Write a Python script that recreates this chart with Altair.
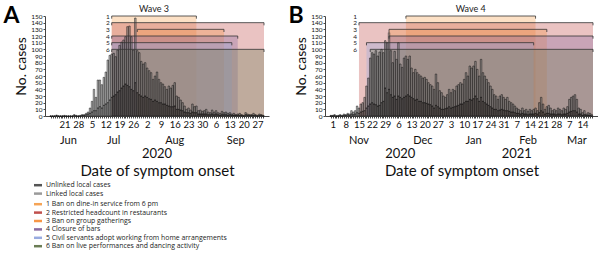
import altair as alt
import pandas as pd

# ---------------- data ----------------
A_FIRST_DAY = "2020-06-14"
A_TOTAL = [0, 0, 0, 1, 0, 0, 0, 1, 0, 0, 0, 0, 2, 1, 0, 1, 2,
           2, 4, 6, 12, 22, 40, 28, 54, 54, 47, 58, 66, 84, 91, 93, 94, 89, 99, 106, 111, 114, 119, 134, 135, 119, 99, 147, 98, 95, 82, 78,
           80, 72, 68, 65, 55, 60, 66, 55, 50, 48, 44, 40, 45, 42, 46, 50, 30, 28, 24, 20, 15, 10, 12, 9, 18, 14, 15, 8, 9, 7, 8,
           10, 6, 5, 9, 6, 8, 5, 4, 7, 5, 6, 4, 5, 3, 4, 2, 3, 4, 2, 1, 5, 3, 2, 2, 4, 2, 1, 3, 2, 1]
A_UNLINKED = [0, 0, 0, 1, 0, 0, 0, 0, 0, 0, 0, 0, 1, 0, 0, 0, 1,
              1, 2, 3, 4, 6, 8, 8, 12, 14, 12, 16, 18, 20, 24, 28, 30, 32, 36, 38, 42, 45, 48, 46, 44, 40, 38, 50, 35, 32, 30, 28,
              30, 28, 26, 25, 22, 24, 22, 20, 20, 18, 18, 16, 15, 14, 14, 15, 10, 10, 9, 8, 6, 5, 5, 4, 6, 5, 5, 3, 3, 3, 3,
              3, 2, 2, 3, 2, 3, 2, 1, 2, 2, 2, 1, 2, 1, 1, 1, 1, 1, 1, 0, 2, 1, 1, 1, 1, 1, 0, 1, 1, 0]

B_FIRST_DAY = "2020-10-31"
B_TOTAL = [1,
           1, 2, 0, 1, 2, 1, 3, 2, 4, 3, 8, 6, 8, 15, 12, 18, 20, 28, 45, 57, 87, 95, 93, 98, 90, 96, 100, 95, 113, 110,
           125, 98, 80, 97, 85, 110, 78, 73, 87, 90, 85, 90, 72, 65, 70, 65, 62, 60, 57, 58, 55, 50, 47, 45, 40, 63, 50, 38, 35, 30, 28,
           32, 40, 35, 40, 38, 45, 47, 50, 48, 55, 65, 60, 75, 72, 75, 82, 70, 60, 85, 65, 60, 55, 50, 45, 40, 32, 30, 25, 30, 32, 28,
           25, 28, 22, 20, 18, 15, 12, 10, 8, 12, 8, 10, 7, 10, 8, 10, 12, 8, 20, 28, 18, 10, 14, 16, 12, 8, 10, 8,
           12, 10, 8, 12, 10, 14, 25, 28, 30, 32, 25, 12, 10, 5, 8, 3, 5, 4, 2]
B_UNLINKED = [0,
              0, 1, 0, 0, 1, 0, 1, 1, 2, 1, 3, 2, 3, 5, 4, 6, 7, 8, 12, 15, 18, 20, 18, 17, 15, 16, 20, 22, 42, 35,
              40, 32, 28, 30, 25, 30, 28, 26, 28, 30, 32, 30, 28, 26, 24, 25, 22, 22, 20, 20, 19, 18, 17, 15, 12, 16, 14, 12, 10, 10, 11,
              12, 14, 12, 13, 14, 15, 16, 18, 18, 20, 22, 22, 25, 24, 26, 30, 26, 22, 28, 22, 20, 18, 16, 14, 12, 10, 10, 8, 9, 10, 9,
              8, 8, 7, 6, 6, 5, 4, 4, 3, 4, 3, 3, 2, 3, 3, 3, 4, 3, 5, 8, 6, 3, 4, 4, 3, 3, 3, 2,
              3, 3, 2, 3, 3, 4, 6, 7, 8, 8, 6, 3, 3, 1, 2, 1, 1, 1, 0]

CASE_TYPES = ["Unlinked local cases", "Linked local cases"]
MEASURES = ["1 Ban on dine-in service from 6 pm",
            "2 Restricted headcount in restaurants",
            "3 Ban on group gatherings",
            "4 Closure of bars",
            "5 Civil servants adopt working from home arrangements",
            "6 Ban on live performances and dancing activity"]
MEASURE_NUMS = ["1", "2", "3", "4", "5", "6"]
LEVELS = [150, 140, 130, 120, 110, 100]

A_DOMAIN = ["2020-06-13T16:00:00Z", "2020-09-30T08:00:00Z"]
B_DOMAIN = ["2020-10-30T14:00:00Z", "2021-03-19T14:00:00Z"]

A_MEAS_START = ["2020-07-15", "2020-07-15", "2020-07-28", "2020-07-15", "2020-07-15", "2020-07-15"]
A_MEAS_END = ["2020-08-27", "2020-09-30T08:00:00Z", "2020-09-10", "2020-09-17", "2020-09-14", "2020-09-30T08:00:00Z"]
B_MEAS_START = ["2020-12-10", "2020-11-15", "2020-12-01", "2020-12-01", "2020-11-19", "2020-11-21"]
B_MEAS_END = ["2021-02-17", "2021-03-19T14:00:00Z", "2021-02-23", "2021-03-19T14:00:00Z", "2021-02-16", "2021-03-19T14:00:00Z"]

A_FIRST_LABEL = "2020-06-21"
B_FIRST_LABEL = "2020-11-01"
A_MONTHS = ["Jun", "Jul", "Aug", "Sep"]
A_MONTH_POS = ["2020-06-23", "2020-07-16", "2020-08-16", "2020-09-16"]
A_YEARS = ["2020"]
A_YEAR_POS = ["2020-08-07"]
B_MONTHS = ["Nov", "Dec", "Jan", "Feb", "Mar"]
B_MONTH_POS = ["2020-11-15", "2020-12-19", "2021-01-15", "2021-02-13", "2021-03-11"]
B_YEARS = ["2020", "2021"]
B_YEAR_POS = ["2020-12-07", "2021-02-07"]

# ---------------- styles ----------------
CASE_COLORS = ["#2e2e2e", "#8a8a8a"]
LEGEND_CASE_COLORS = ["#555555", "#9a9a9a"]
MEASURE_COLORS = ["#f5a456", "#c0504d", "#f79646", "#8a6aa0", "#98abe0", "#6b7d55"]
FONT = "Lato"
DAY = 86400000


def ms(s):
    t = pd.Timestamp(s)
    if t.tzinfo is None:
        t = t.tz_localize("UTC")
    return int(t.value // 10**6)


def panel(letter, first_day, total, unlinked, mstart, mend, domain, first_label,
          months, month_pos, years, year_pos, wave, width, letter_x):
    d0 = ms(first_day)
    n = len(total)
    dates = [d0 + i * DAY for i in range(n)]
    rows = []
    for i in range(n):
        rows.append({"date": dates[i], "type": CASE_TYPES[0], "count": unlinked[i], "ord": 0})
        rows.append({"date": dates[i], "type": CASE_TYPES[1], "count": total[i] - unlinked[i], "ord": 1})
    bars_df = pd.DataFrame(rows)

    meas_df = pd.DataFrame({
        "measure": MEASURES, "num": MEASURE_NUMS, "level": LEVELS,
        "start": [ms(s) for s in mstart], "end": [ms(e) for e in mend],
    })
    meas_df["label_x"] = meas_df["start"].min()
    wave_df = pd.DataFrame({"mid": [(meas_df["start"][0] + meas_df["end"][0]) // 2],
                            "level": [LEVELS[0]], "label": [wave]})
    month_df = pd.DataFrame({"pos": [ms(p) for p in month_pos], "label": months})
    year_df = pd.DataFrame({"pos": [ms(p) for p in year_pos], "label": years})
    letter_df = pd.DataFrame({"t": [letter]})

    fl = ms(first_label)
    label_expr = (f"time(datum.value) >= {fl} && round((time(datum.value) - {fl}) / {DAY}) % 7 == 0"
                  f" ? utcFormat(datum.value, '%-d') : ''")
    xscale = alt.Scale(type="utc", domain=[ms(d) for d in domain], nice=False)
    xaxis = alt.Axis(values=dates, labelExpr=label_expr, labelFontSize=9.5, labelPadding=1,
                     tickSize=2, tickColor="#444", domainColor="#444", labelColor="#111",
                     labelOverlap=False, labelFlush=False, grid=False,
                     title="Date of symptom onset", titleFontSize=15, titleFontWeight="normal",
                     titleColor="#111", titlePadding=35)
    yscale = alt.Scale(domain=[0, 150], nice=False)
    yaxis = alt.Axis(values=list(range(0, 151, 10)), labelFontSize=6.5, labelPadding=1, tickSize=2,
                     tickColor="#444", domainColor="#444", labelColor="#111", grid=False,
                     title="No. cases", titleFontSize=14, titleFontWeight="normal",
                     titleColor="#111", titlePadding=2)

    def X(f):
        return alt.X(f"{f}:T", scale=xscale, axis=xaxis)

    def Y(f, **kw):
        return alt.Y(f"{f}:Q", scale=yscale, axis=yaxis, **kw)

    rects = alt.Chart(meas_df).mark_rect(opacity=0.34).encode(
        x=X("start"), x2=alt.X2("end:T"), y=Y("level"), y2=alt.datum(0),
        fill=alt.Fill("measure:N", scale=alt.Scale(domain=MEASURES, range=MEASURE_COLORS), legend=None))
    bars = alt.Chart(bars_df).mark_bar(size=1.5, stroke="#000000", strokeWidth=0.6, strokeOpacity=0.75,
                                       fillOpacity=0.55).encode(
        x=X("date"), y=Y("count", stack="zero"),
        color=alt.Color("type:N", scale=alt.Scale(domain=CASE_TYPES, range=CASE_COLORS), legend=None),
        order=alt.Order("ord:Q"))
    hlines = alt.Chart(meas_df).mark_rule(color="#333", strokeWidth=0.8).encode(
        x=X("start"), x2=alt.X2("end:T"), y=Y("level"))
    tick_base = alt.Chart(meas_df).transform_calculate(tb="datum.level - 4").mark_rule(
        color="#333", strokeWidth=0.8)
    ticks1 = tick_base.encode(x=X("start"), y=Y("level"), y2=alt.Y2("tb:Q"))
    ticks2 = tick_base.encode(x=X("end"), y=Y("level"), y2=alt.Y2("tb:Q"))
    nums = alt.Chart(meas_df).mark_text(align="right", baseline="middle", dx=-2, dy=0.5,
                                        fontSize=6.5, fill="#222").encode(
        x=X("label_x"), y=Y("level"), text="num:N")
    wave_t = alt.Chart(wave_df).mark_text(baseline="bottom", dy=-2, fontSize=9, fill="#222").encode(
        x=X("mid"), y=Y("level"), text="label:N")
    month_t = alt.Chart(month_df).mark_text(baseline="middle", fontSize=11, fill="#111").encode(
        x=X("pos"), y=alt.value(124.5), text="label:N")
    year_t = alt.Chart(year_df).mark_text(baseline="middle", fontSize=13, fill="#111").encode(
        x=X("pos"), y=alt.value(137.5), text="label:N")
    letter_t = alt.Chart(letter_df).mark_text(baseline="alphabetic", fontSize=23, fontWeight="bold",
                                              fill="#000").encode(
        x=alt.value(letter_x), y=alt.value(7), text="t:N")
    return alt.layer(rects, bars, hlines, ticks1, ticks2, nums, wave_t, month_t, year_t, letter_t).properties(
        width=width, height=100)


pA = panel("A", A_FIRST_DAY, A_TOTAL, A_UNLINKED, A_MEAS_START, A_MEAS_END, A_DOMAIN, A_FIRST_LABEL,
           A_MONTHS, A_MONTH_POS, A_YEARS, A_YEAR_POS, "Wave 3", 224, -33.5)
pB = panel("B", B_FIRST_DAY, B_TOTAL, B_UNLINKED, B_MEAS_START, B_MEAS_END, B_DOMAIN, B_FIRST_LABEL,
           B_MONTHS, B_MONTH_POS, B_YEARS, B_YEAR_POS, "Wave 4", 273, -29)

ALL_LABELS = CASE_TYPES + MEASURES
ALL_COLORS = LEGEND_CASE_COLORS + MEASURE_COLORS


def legend_block(labels):
    df = pd.DataFrame({"label": labels})
    base = alt.Chart(df).encode(y=alt.Y("label:N", sort=None, axis=None))
    sw = base.mark_rule(strokeWidth=2.5).encode(
        x=alt.value(-11), x2=alt.value(-3),
        stroke=alt.Stroke("label:N", scale=alt.Scale(domain=ALL_LABELS, range=ALL_COLORS), legend=None))
    tx = base.mark_text(align="left", baseline="middle", fontSize=6.9, font="Open Sans",
                        fill="#222").encode(x=alt.value(1), text="label:N")
    return alt.layer(sw, tx).properties(width=230, height=alt.Step(8.4))


legend = alt.vconcat(legend_block(CASE_TYPES), legend_block(MEASURES), spacing=2)

chart = alt.vconcat(alt.hconcat(pA, pB, spacing=19), legend, spacing=2).properties(
    padding={"left": 3, "top": 5, "right": 0, "bottom": 0}
).configure(font=FONT).configure_view(stroke=None)

chart.save("out.html", embed_options={"renderer": "svg", "actions": False})
